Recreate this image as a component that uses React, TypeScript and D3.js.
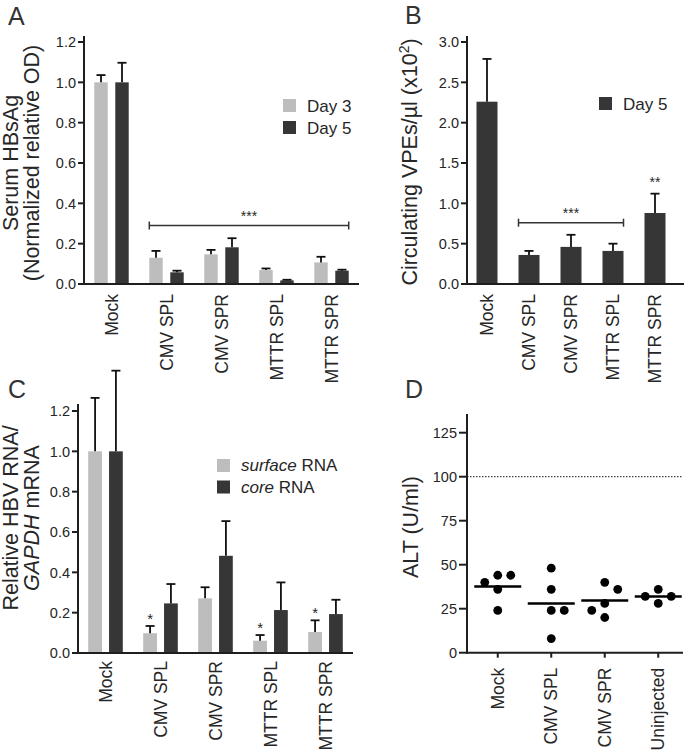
import React from "react";
import * as d3 from "d3";

const FONT = "'Liberation Sans', Arial, Helvetica, sans-serif";
const LIGHT = "#bdbdbd";
const DARK = "#363636";
const INK = "#1e1e1e";
const TEXT = "#262626";

// ---------- data ----------
const groupsABC = ["Mock", "CMV SPL", "CMV SPR", "MTTR SPL", "MTTR SPR"];

// Panel A: serum HBsAg (normalized relative OD)
const hbsagDay3 = [1.0, 0.13, 0.147, 0.069, 0.107];
const hbsagDay3Err = [0.036, 0.034, 0.022, 0.008, 0.028];
const hbsagDay5 = [1.0, 0.058, 0.182, 0.018, 0.066];
const hbsagDay5Err = [0.097, 0.008, 0.045, 0.003, 0.005];
const seriesA = ["Day 3", "Day 5"];
const yTicksA = [0, 0.2, 0.4, 0.6, 0.8, 1.0, 1.2];

// Panel B: circulating VPEs/µl (x10^2), day 5
const vpeDay5 = [2.26, 0.36, 0.46, 0.41, 0.88];
const vpeDay5Err = [0.53, 0.05, 0.15, 0.09, 0.24];
const yTicksB = [0, 0.5, 1.0, 1.5, 2.0, 2.5, 3.0];

// Panel C: relative HBV RNA / GAPDH mRNA
const surfaceRna = [1.0, 0.098, 0.271, 0.061, 0.104];
const surfaceRnaErr = [0.265, 0.036, 0.055, 0.028, 0.058];
const coreRna = [1.0, 0.246, 0.482, 0.213, 0.193];
const coreRnaErr = [0.4, 0.096, 0.172, 0.137, 0.071];
const seriesC = ["surface", "core"];
const yTicksC = [0, 0.2, 0.4, 0.6, 0.8, 1.0, 1.2];
const starsC = ["CMV SPL", "MTTR SPL", "MTTR SPR"]; // * on surface RNA

// Panel D: ALT (U/ml)
const groupsD = ["Mock", "CMV SPL", "CMV SPR", "Uninjected"];
const altMock = [44, 44, 40, 36, 24];
const altCmvSpl = [48, 36, 24, 24, 8];
const altCmvSpr = [40, 36, 28, 24, 20];
const altUninjected = [36, 32, 32, 28];
const altThreshold = 100;
const yTicksD = [0, 25, 50, 75, 100, 125];

// ---------- helpers ----------
type Lin = d3.ScaleLinear<number, number>;

function YAxis({ x, y, ticks, fmt, top, tickLen = 6, gap = 2 }: { x: number; y: Lin; ticks: number[]; fmt: (v: number) => string; top: number; tickLen?: number; gap?: number }) {
  return (
    <g>
      <line x1={x} x2={x} y1={y(0) + 1} y2={top} stroke={INK} strokeWidth={2} />
      {ticks.map((t) => (
        <g key={t}>
          <line x1={x - tickLen} x2={x} y1={y(t)} y2={y(t)} stroke={INK} strokeWidth={2} />
          <text x={x - tickLen - gap} y={y(t)} dy="0.36em" textAnchor="end" fontSize={14.5} fill={TEXT}>
            {fmt(t)}
          </text>
        </g>
      ))}
    </g>
  );
}

function XLabels({ cats, pos, y0, gap }: { cats: string[]; pos: (c: string) => number; y0: number; gap: number }) {
  return (
    <g>
      {cats.map((c) => (
        <text key={c} transform={`translate(${pos(c)},${y0 + gap}) rotate(-90)`} textAnchor="end" dy="0.35em" fontSize={17.5} fill={TEXT}>
          {c}
        </text>
      ))}
    </g>
  );
}

function ErrBar({ cx, y1, y2 }: { cx: number; y1: number; y2: number }) {
  return (
    <g stroke="#111" strokeWidth={1.8}>
      <line x1={cx} x2={cx} y1={y1} y2={y2} />
      <line x1={cx - 4.5} x2={cx + 4.5} y1={y2} y2={y2} />
    </g>
  );
}

function SigBar({ x1, x2, y, label }: { x1: number; x2: number; y: number; label: string }) {
  return (
    <g>
      <g stroke="#333" strokeWidth={1.5}>
        <line x1={x1} x2={x2} y1={y} y2={y} />
        <line x1={x1} x2={x1} y1={y - 4} y2={y + 4} />
        <line x1={x2} x2={x2} y1={y - 4} y2={y + 4} />
      </g>
      <text x={(x1 + x2) / 2} y={y - 5} textAnchor="middle" fontSize={14} fill={TEXT}>
        {label}
      </text>
    </g>
  );
}

function swarm(values: number[], y: Lin, minDist: number) {
  const placed: { slot: number; py: number }[] = [];
  return values.map((v) => {
    const py = y(v);
    const hits = (s: number) => placed.some((p) => p.slot === s && Math.abs(p.py - py) < minDist);
    let slot = 0;
    if (hits(0)) {
      for (let k = 1; k < 10; k++) {
        const right = placed.filter((p) => p.slot > 0).length;
        const left = placed.filter((p) => p.slot < 0).length;
        const order = right <= left ? [k, -k] : [-k, k];
        const s = order.find((s) => !hits(s));
        if (s !== undefined) {
          slot = s;
          break;
        }
      }
    }
    placed.push({ slot, py });
    return { v, py, slot };
  });
}

// ---------- panels ----------
function PanelA() {
  const x = d3.scaleBand<string>().domain(groupsABC).range([84, 359]);
  const sub = d3.scaleBand<string>().domain(seriesA).range([0, x.bandwidth()]).paddingInner(0.36).paddingOuter(0.49);
  const y = d3.scaleLinear().domain([0, 1.2]).range([284, 42]);
  const vals = [hbsagDay3, hbsagDay5];
  const errs = [hbsagDay3Err, hbsagDay5Err];
  const cols = [LIGHT, DARK];
  const fmt = d3.format(".1f");
  return (
    <g>
      {groupsABC.map((g, i) =>
        seriesA.map((s, k) => {
          const bx = (x(g) as number) + (sub(s) as number);
          const v = vals[k][i];
          return <rect key={g + s} x={bx} y={y(v)} width={sub.bandwidth()} height={y(0) - y(v)} fill={cols[k]} />;
        })
      )}
      {groupsABC.map((g, i) =>
        seriesA.map((s, k) => {
          const cx = (x(g) as number) + (sub(s) as number) + sub.bandwidth() / 2;
          const v = vals[k][i];
          return <ErrBar key={g + s} cx={cx} y1={y(v)} y2={y(v + errs[k][i])} />;
        })
      )}
      <SigBar
        x1={(x("CMV SPL") as number) + (sub("Day 3") as number)}
        x2={(x("MTTR SPR") as number) + (sub("Day 5") as number) + sub.bandwidth()}
        y={y(0.29)}
        label="***"
      />
      <line x1={83} x2={359} y1={y(0)} y2={y(0)} stroke={INK} strokeWidth={2} />
      <YAxis x={84} y={y} ticks={yTicksA} fmt={fmt} top={36} />
      <XLabels cats={groupsABC} pos={(c) => (x(c) as number) + x.bandwidth() / 2} y0={y(0)} gap={10} />
      {seriesA.map((s, k) => (
        <g key={s}>
          <rect x={283} y={99 + k * 22} width={13} height={13} fill={cols[k]} />
          <text x={307} y={111.5 + k * 22} fontSize={17} fill={TEXT}>
            {s}
          </text>
        </g>
      ))}
      <text transform={`translate(18,163) rotate(-90)`} textAnchor="middle" fontSize={21.5} fill={TEXT}>
        Serum HBsAg
      </text>
      <text transform={`translate(39,163) rotate(-90)`} textAnchor="middle" fontSize={21.5} fill={TEXT}>
        (Normalized relative OD)
      </text>
      <text x={8} y={25} fontSize={25} fill="#333">
        A
      </text>
    </g>
  );
}

function PanelB() {
  const x = d3.scaleBand<string>().domain(groupsABC).range([466, 676]).paddingInner(0.5).paddingOuter(0.25);
  const y = d3.scaleLinear().domain([0, 3]).range([284, 42]);
  const fmt = d3.format(".1f");
  return (
    <g>
      {groupsABC.map((g, i) => (
        <rect key={g} x={x(g)} y={y(vpeDay5[i])} width={x.bandwidth()} height={y(0) - y(vpeDay5[i])} fill={DARK} />
      ))}
      {groupsABC.map((g, i) => (
        <ErrBar key={g} cx={(x(g) as number) + x.bandwidth() / 2} y1={y(vpeDay5[i])} y2={y(vpeDay5[i] + vpeDay5Err[i])} />
      ))}
      <SigBar x1={x("CMV SPL") as number} x2={(x("MTTR SPL") as number) + x.bandwidth()} y={y(0.76)} label="***" />
      <text
        x={(x("MTTR SPR") as number) + x.bandwidth() / 2}
        y={y(vpeDay5[4] + vpeDay5Err[4]) - 7}
        textAnchor="middle"
        fontSize={14}
        fill={TEXT}
      >
        **
      </text>
      <line x1={466} x2={684} y1={y(0)} y2={y(0)} stroke={INK} strokeWidth={2} />
      <YAxis x={467} y={y} ticks={yTicksB} fmt={fmt} top={36} />
      <XLabels cats={groupsABC} pos={(c) => (x(c) as number) + x.bandwidth() / 2} y0={y(0)} gap={10} />
      <rect x={599} y={97} width={13} height={13} fill={DARK} />
      <text x={623} y={109.5} fontSize={17} fill={TEXT}>
        Day 5
      </text>
      <text transform={`translate(416.5,162) rotate(-90)`} textAnchor="middle" fontSize={21.5} fill={TEXT}>
        <tspan>Circulating VPEs/µl (x10</tspan>
        <tspan dy={-8} fontSize={14}>
          2
        </tspan>
        <tspan dy={8}>)</tspan>
      </text>
      <text x={405} y={24} fontSize={25} fill="#333">
        B
      </text>
    </g>
  );
}

function PanelC() {
  const x = d3.scaleBand<string>().domain(groupsABC).range([78, 353]);
  const sub = d3.scaleBand<string>().domain(seriesC).range([0, x.bandwidth()]).paddingInner(0.34).paddingOuter(0.49);
  const y = d3.scaleLinear().domain([0, 1.2]).range([653, 411]);
  const vals = [surfaceRna, coreRna];
  const errs = [surfaceRnaErr, coreRnaErr];
  const cols = [LIGHT, DARK];
  const fmt = d3.format(".1f");
  return (
    <g>
      {groupsABC.map((g, i) =>
        seriesC.map((s, k) => {
          const v = vals[k][i];
          return (
            <rect key={g + s} x={(x(g) as number) + (sub(s) as number)} y={y(v)} width={sub.bandwidth()} height={y(0) - y(v)} fill={cols[k]} />
          );
        })
      )}
      {groupsABC.map((g, i) =>
        seriesC.map((s, k) => {
          const cx = (x(g) as number) + (sub(s) as number) + sub.bandwidth() / 2;
          const v = vals[k][i];
          return <ErrBar key={g + s} cx={cx} y1={y(v)} y2={y(v + errs[k][i])} />;
        })
      )}
      {starsC.map((g) => {
        const i = groupsABC.indexOf(g);
        const cx = (x(g) as number) + (sub("surface") as number) + sub.bandwidth() / 2;
        return (
          <text key={g} x={cx} y={y(surfaceRna[i] + surfaceRnaErr[i]) - 2} textAnchor="middle" fontSize={15} fill={TEXT}>
            *
          </text>
        );
      })}
      <line x1={77} x2={353} y1={y(0)} y2={y(0)} stroke={INK} strokeWidth={2} />
      <YAxis x={78} y={y} ticks={yTicksC} fmt={fmt} top={404} />
      <XLabels cats={groupsABC} pos={(c) => (x(c) as number) + x.bandwidth() / 2} y0={y(0)} gap={8} />
      {seriesC.map((s, k) => (
        <g key={s}>
          <rect x={217} y={459 + k * 21.5} width={13} height={13} fill={cols[k]} />
          <text x={241} y={471 + k * 21.5} fontSize={17} fill={TEXT}>
            <tspan fontStyle="italic">{s}</tspan>
            <tspan> RNA</tspan>
          </text>
        </g>
      ))}
      <text transform={`translate(18,518) rotate(-90)`} textAnchor="middle" fontSize={21.5} fill={TEXT}>
        Relative HBV RNA/
      </text>
      <text transform={`translate(38.5,518) rotate(-90)`} textAnchor="middle" fontSize={21.5} fill={TEXT}>
        <tspan fontStyle="italic">GAPDH</tspan>
        <tspan> mRNA</tspan>
      </text>
      <text x={8} y={398} fontSize={25} fill="#333">
        C
      </text>
    </g>
  );
}

function PanelD() {
  const x = d3.scalePoint<string>().domain(groupsD).range([471, 685]).padding(0.5);
  const y = d3.scaleLinear().domain([0, 125]).range([652.7, 432.7]);
  const sets = [altMock, altCmvSpl, altCmvSpr, altUninjected];
  const slotStep = 13;
  return (
    <g>
      <line x1={467} x2={683} y1={y(altThreshold)} y2={y(altThreshold)} stroke="#444" strokeWidth={1.2} strokeDasharray="1.5,1.5" />
      {groupsD.map((g, i) => {
        const cx = x(g) as number;
        const pts = swarm(sets[i], y, 9.5);
        const m = d3.mean(sets[i]) as number;
        return (
          <g key={g}>
            {pts.map((p, j) => (
              <circle key={j} cx={cx + p.slot * slotStep} cy={p.py} r={4.4} fill="#000" />
            ))}
            <line x1={cx - 23.5} x2={cx + 23.5} y1={y(m)} y2={y(m)} stroke="#000" strokeWidth={2.5} />
          </g>
        );
      })}
      <line x1={466} x2={683} y1={y(0)} y2={y(0)} stroke={INK} strokeWidth={2} />
      {groupsD.map((g) => (
        <line key={g} x1={x(g)} x2={x(g)} y1={y(0)} y2={y(0) + 5} stroke={INK} strokeWidth={2} />
      ))}
      <YAxis x={467} y={y} ticks={yTicksD} fmt={d3.format("d")} top={414} tickLen={8} gap={2} />
      <XLabels cats={groupsD} pos={(c) => x(c) as number} y0={y(0)} gap={15} />
      <text transform={`translate(418,527) rotate(-90)`} textAnchor="middle" fontSize={21.5} fill={TEXT}>
        ALT (U/ml)
      </text>
      <text x={405} y={398} fontSize={25} fill="#333">
        D
      </text>
    </g>
  );
}

export default function App() {
  return (
    <svg
      width={685}
      height={755}
      viewBox="0 0 685 755"
      style={{ position: "absolute", left: 0, top: 0, background: "#fff", fontFamily: FONT }}
      fontFamily={FONT}
    >
      <rect width={685} height={755} fill="#fff" />
      <PanelA />
      <PanelB />
      <PanelC />
      <PanelD />
    </svg>
  );
}
